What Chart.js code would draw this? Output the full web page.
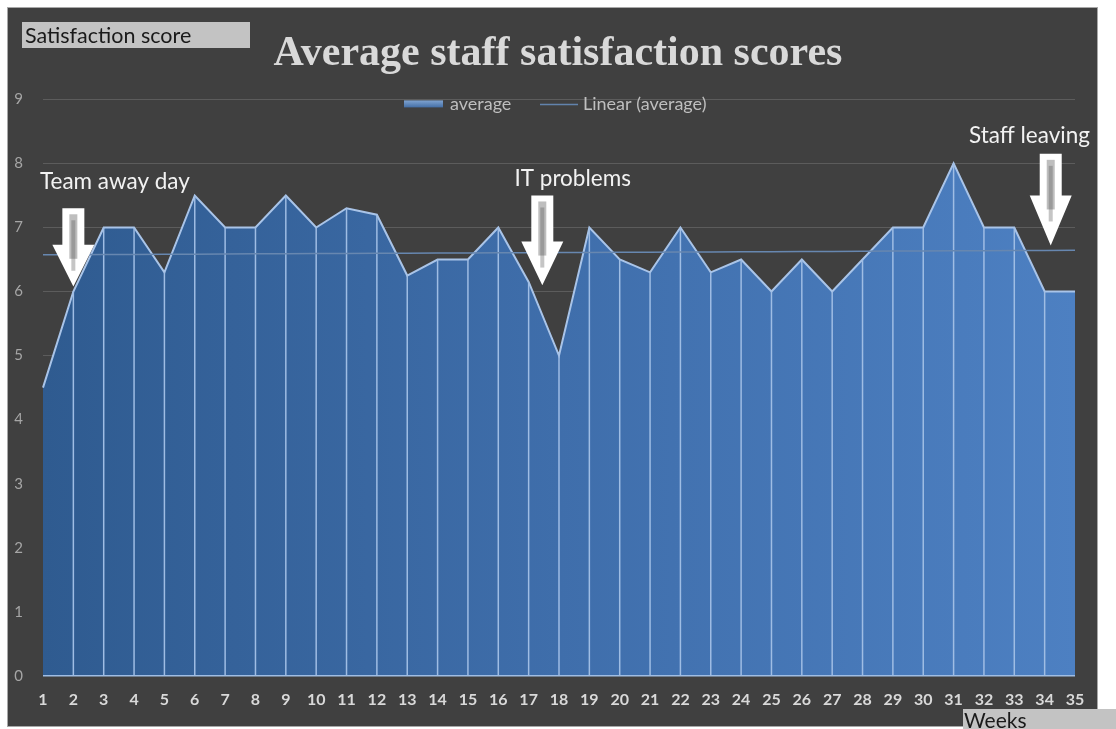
<!DOCTYPE html>
<html>
<head>
<meta charset="utf-8">
<title>Average staff satisfaction scores</title>
<script src="https://cdn.jsdelivr.net/npm/chart.js@4.4.1/dist/chart.umd.min.js"></script>
<style>
	html, body { margin: 0; padding: 0; background: #ffffff; }
	#caja { position: relative; width: 1116px; height: 729px; }
</style>
</head>
<body>
<div id="caja"><canvas id="GraficoSatisfaccion"></canvas></div>
<script>
// datos del grafico
var semanas = [];
for (var i = 1; i <= 35; i++) { semanas.push(String(i)); }
var promedio = [4.5, 6.0, 7.0, 7.0, 6.3, 7.5, 7.0, 7.0, 7.5, 7.0,
				7.3, 7.2, 6.25, 6.5, 6.5, 7.0, 6.15, 5.0, 7.0, 6.5,
				6.3, 7.0, 6.3, 6.5, 6.0, 6.5, 6.0, 6.5, 7.0, 7.0,
				8.0, 7.0, 7.0, 6.0, 6.0];
var ticksY = [0, 1, 2, 3, 4, 5, 6, 7, 8, 9];
var etiquetaSerie = 'average';
var etiquetaTendencia = 'Linear (average)';
var tituloGrafico = 'Average staff satisfaction scores';
var tituloEjeY = 'Satisfaction score';
var tituloEjeX = 'Weeks';
// notas con flecha: semana, texto
var notasTexto = ['Team away day', 'IT problems', 'Staff leaving'];
var notasSemana = [2, 17.45, 34.2];

// linea de tendencia (minimos cuadrados sobre los datos)
function Tendencia(valores) {
	var n = valores.length, sx = 0, sy = 0, sxy = 0, sxx = 0;
	for (var i = 0; i < n; i++) {
		var x = i + 1;
		sx += x; sy += valores[i]; sxy += x * valores[i]; sxx += x * x;
	}
	var m = (n * sxy - sx * sy) / (n * sxx - sx * sx);
	var b = (sy - m * sx) / n;
	return valores.map(function(v, i){ return b + m * (i + 1); });
}
var tendencia = Tendencia(promedio);

///////////////////////////////////////////////////////////////////////////////
// PLUGINS: fondo, lineas verticales, flechas, leyenda y cajas de texto
///////////////////////////////////////////////////////////////////////////////
var fondoPanel = {
	id: 'fondoPanel',
	beforeDraw: function(chart) {
		var ctx = chart.ctx;
		ctx.save();
		ctx.fillStyle = '#ffffff';
		ctx.fillRect(0, 0, chart.width, chart.height);
		ctx.fillStyle = '#404040';
		ctx.fillRect(8, 8, 1089, 718);
		ctx.strokeStyle = '#a8a8a8';
		ctx.lineWidth = 1;
		ctx.strokeRect(7.5, 7.5, 1090, 719);
		ctx.restore();
	}
};

var lineasCaida = {
	id: 'lineasCaida',
	afterDatasetDraw: function(chart, args) {
		if (args.index !== 0) return;
		var ctx = chart.ctx, base = chart.scales.y.getPixelForValue(0);
		ctx.save();
		ctx.strokeStyle = '#9fbde4';
		ctx.lineWidth = 1.5;
		args.meta.data.forEach(function(p, i){
			if (i === 0 || i === args.meta.data.length - 1) return;
			ctx.beginPath();
			ctx.moveTo(p.x, p.y);
			ctx.lineTo(p.x, base);
			ctx.stroke();
		});
		// linea base
		ctx.beginPath();
		ctx.moveTo(chart.chartArea.left, base);
		ctx.lineTo(chart.chartArea.right, base);
		ctx.stroke();
		ctx.restore();
	}
};

function Flecha(ctx, x, yTop, yHead, yTip, anchoCuerpo, anchoPunta) {
	ctx.beginPath();
	ctx.moveTo(x - anchoCuerpo / 2, yTop);
	ctx.lineTo(x + anchoCuerpo / 2, yTop);
	ctx.lineTo(x + anchoCuerpo / 2, yHead);
	ctx.lineTo(x + anchoPunta / 2, yHead);
	ctx.lineTo(x, yTip);
	ctx.lineTo(x - anchoPunta / 2, yHead);
	ctx.lineTo(x - anchoCuerpo / 2, yHead);
	ctx.closePath();
	ctx.fillStyle = '#ffffff';
	ctx.fill();
	// textura gris del centro
	ctx.fillStyle = 'rgba(110,110,110,0.45)';
	ctx.fillRect(x - 4, yTop + 6, 8, yHead - yTop + 8);
	ctx.fillStyle = 'rgba(90,90,90,0.35)';
	ctx.fillRect(x - 2, yTop + 12, 4, yHead - yTop + 14);
}

var notasFlechas = {
	id: 'notasFlechas',
	afterDraw: function(chart) {
		var ctx = chart.ctx, sx = chart.scales.x, sy = chart.scales.y;
		// posiciones en unidades del grafico: [texto x, texto y, alineado, tope, cabeza, punta]
		var pos = [
			[0.9, 7.72, 'left', 7.3, 6.73, 6.08],
			[18.45, 7.76, 'center', 7.5, 6.78, 6.1],
			[33.5, 8.44, 'center', 8.15, 7.5, 6.72]
		];
		ctx.save();
		ctx.textBaseline = 'middle';
		for (var i = 0; i < notasTexto.length; i++) {
			var p = pos[i];
			Flecha(ctx, sx.getPixelForValue(notasSemana[i] - 1), sy.getPixelForValue(p[3]),
				sy.getPixelForValue(p[4]), sy.getPixelForValue(p[5]), 22, 42);
			ctx.font = '22.5px Lato';
			ctx.fillStyle = '#f2f2f2';
			ctx.textAlign = p[2];
			ctx.fillText(notasTexto[i], sx.getPixelForValue(p[0] - 1), sy.getPixelForValue(p[1]));
		}
		// leyenda
		var yl = sy.getPixelForValue(9) + 5;
		var grad = ctx.createLinearGradient(0, yl - 4, 0, yl + 4);
		grad.addColorStop(0, '#7fa3d1');
		grad.addColorStop(1, '#3c67a0');
		ctx.fillStyle = grad;
		ctx.fillRect(404, yl - 4, 39, 7);
		ctx.strokeStyle = '#6283ad';
		ctx.lineWidth = 1.5;
		ctx.beginPath();
		ctx.moveTo(540, yl);
		ctx.lineTo(578, yl);
		ctx.stroke();
		ctx.font = '18px Lato';
		ctx.fillStyle = '#bfbfbf';
		ctx.textAlign = 'left';
		ctx.fillText(etiquetaSerie, 450, yl);
		ctx.fillText(etiquetaTendencia, 583, yl);
		// caja titulo eje Y
		ctx.fillStyle = '#c3c3c3';
		ctx.fillRect(22, 22, 228, 26);
		ctx.fillStyle = '#1a1a1a';
		ctx.font = '21.5px Lato';
		ctx.fillText(tituloEjeY, 25, 36);
		// caja titulo eje X
		ctx.fillStyle = '#c3c3c3';
		ctx.fillRect(963, 709, 153, 20);
		ctx.fillStyle = '#1a1a1a';
		ctx.font = '21px Lato';
		ctx.fillText(tituloEjeX, 964, 721);
		ctx.restore();
	}
};

///////////////////////////////////////////////////////////////////////////////
// GRAFICO
///////////////////////////////////////////////////////////////////////////////
function GraficoSatisfaccion() {
	myChartSatisfaccion = new Chart('GraficoSatisfaccion', {
		type: 'line',
		data: {
			labels: semanas,
			datasets: [{
				label: etiquetaSerie,
				data: promedio,
				order: 1,
				fill: 'origin',
				borderColor: '#a9c4e8',
				borderWidth: 2,
				pointRadius: 0,
				tension: 0,
				backgroundColor: function(context) {
					var area = context.chart.chartArea;
					if (!area) return '#3d6aa5';
					var g = context.chart.ctx.createLinearGradient(area.left, 0, area.right, 0);
					g.addColorStop(0, '#2f5b90');
					g.addColorStop(0.5, '#3f6eab');
					g.addColorStop(1, '#4d80c2');
					return g;
				}
			}, {
				label: etiquetaTendencia,
				data: tendencia,
				order: 0,
				fill: false,
				borderColor: '#6787b0',
				borderWidth: 1.5,
				pointRadius: 0
			}]
		},
		options: {
			responsive: true,
			maintainAspectRatio: false,
			animation: false,
			layout: { padding: { left: 0, right: 0, top: 8, bottom: 6 } },
			scales: {
				x: {
					grid: { display: false, drawTicks: false },
					border: { display: false },
					ticks: { color: '#d9d9d9', padding: 14, maxRotation: 0, autoSkip: false,
						font: { family: 'Lato', size: 16, weight: 'bold' } }
				},
				y: {
					min: 0, max: 9,
					afterBuildTicks: function(axis) {
						axis.ticks = ticksY.map(function(v){ return { value: v }; });
					},
					afterFit: function(axis) { axis.width = 43; },
					grid: { color: '#5c5c5c', lineWidth: 1, drawTicks: false },
					border: { display: false },
					ticks: { color: '#a6a6a6', padding: 20, font: { family: 'Lato', size: 15 } }
				},
				// eje vacio a la derecha para dejar el margen
				margenDerecho: {
					position: 'right',
					min: 0, max: 9,
					afterFit: function(axis) { axis.width = 41; },
					grid: { display: false, drawTicks: false },
					border: { display: false },
					ticks: { display: false }
				}
			},
			plugins: {
				title: {
					display: true,
					text: tituloGrafico,
					color: '#d9d9d9',
					font: { family: 'Liberation Serif', size: 42, weight: 'bold' },
					padding: { top: 21, bottom: 20 }
				},
				legend: { display: false },
				tooltip: { enabled: false }
			}
		},
		plugins: [fondoPanel, lineasCaida, notasFlechas]
	});
}

GraficoSatisfaccion();
</script>
</body>
</html>
